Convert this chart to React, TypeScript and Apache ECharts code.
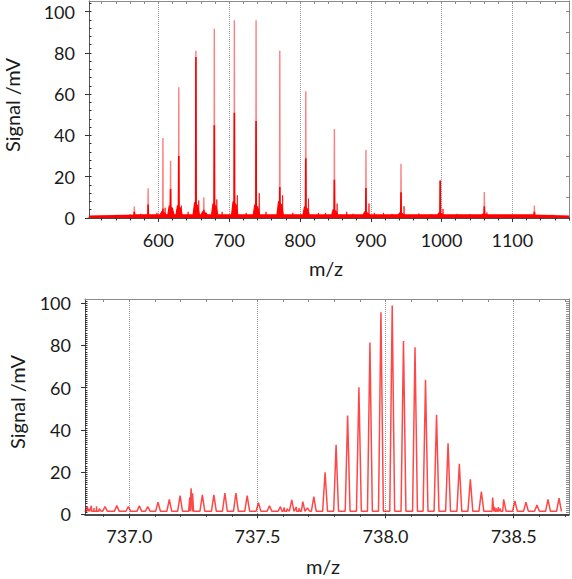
import React, { useEffect, useRef } from "react";
import * as echarts from "echarts";

// ---------- Top panel: full spectrum ----------
const topXMin = 502;
const topXMax = 1180;
const topYMax = 105.2;
const topXLabels = [600, 700, 800, 900, 1000, 1100];
const yLabels = [0, 20, 40, 60, 80, 100];

// main charge-state peaks (m/z, apex height, height of dark core, height of base cluster)
const topPeakMz = [566.0, 585.5, 606.4, 617.2, 628.8, 653.0, 664.2, 679.0, 707.3, 738.0, 771.5, 808.2, 848.6, 893.2, 942.7, 998.1, 1060.4, 1131.1];
const topPeakHeight = [5.7, 14.4, 38.8, 27.8, 63.4, 81.1, 10.0, 91.8, 95.9, 95.9, 81.1, 61.4, 43.2, 33.0, 26.3, 18.4, 12.6, 6.0];
const topPeakCore = [3.0, 6.5, 4.5, 14.0, 30.0, 78.0, 4.0, 45.0, 51.0, 47.0, 15.0, 29.0, 18.6, 14.6, 12.5, 18.0, 5.7, 3.0];
const topPeakBase = [0.5, 1.5, 3.0, 6.0, 6.0, 7.5, 3.0, 7.0, 8.0, 6.5, 8.0, 5.5, 4.0, 3.0, 2.5, 2.5, 2.0, 1.0];

// adduct / satellite peaks
const topSatMz = [609.5, 632.5, 657.0, 682.5, 711.5, 742.5, 775.5, 812.0, 852.5, 897.5, 947.0, 1002.0, 1064.0];
const topSatHeight = [5.0, 6.0, 8.5, 9.0, 11.0, 12.0, 11.0, 9.4, 7.0, 7.0, 5.7, 4.4, 2.7];

// small baseline bumps
const topNoiseMz = [540, 560, 575, 598, 642, 668, 690, 724, 752, 790, 826, 836, 866, 875, 905, 918, 930, 968, 985, 1022, 1040, 1080, 1100, 1145, 1160];
const topNoiseHeight = [1.5, 1.8, 2.0, 2.5, 3.0, 2.5, 3.0, 2.5, 3.0, 2.5, 2.5, 2.5, 3.0, 2.0, 2.5, 2.5, 2.0, 2.2, 1.8, 2.0, 1.8, 1.5, 1.5, 1.5, 1.2];
const topFloor = 1.3;

// ---------- Bottom panel: isotope pattern ----------
const botXMin = 736.827;
const botXMax = 738.716;
const botYMax = 102;
const botXLabels = [737.0, 737.5, 738.0, 738.5];

const botPeakMz = [736.905, 736.951, 736.996, 737.039, 737.072, 737.112, 737.156, 737.198, 737.241, 737.285, 737.330, 737.373, 737.416, 737.460, 737.504, 737.547, 737.590, 737.634, 737.677, 737.720, 737.764, 737.807, 737.852, 737.896, 737.939, 737.982, 738.026, 738.070, 738.115, 738.156, 738.199, 738.244, 738.288, 738.331, 738.374, 738.418, 738.461, 738.505, 738.548, 738.591, 738.634, 738.677];
const botPeakHeight = [3.6, 4.1, 3.6, 4.0, 3.6, 5.7, 7.1, 8.8, 12.3, 9.2, 9.2, 10.0, 10.0, 8.8, 5.5, 4.0, 3.6, 6.8, 6.0, 8.4, 19.9, 32.9, 46.8, 60.2, 81.4, 95.7, 98.9, 82.1, 79.1, 63.7, 47.1, 33.6, 23.9, 16.6, 10.7, 7.9, 7.1, 6.3, 5.7, 4.4, 7.1, 7.6];
const botNoiseMz = [736.835, 736.843, 736.852, 736.862, 736.872, 736.882, 737.236, 737.247, 737.605, 737.615, 737.652, 737.662, 737.695, 738.425, 738.432, 738.440, 738.448];
const botNoiseHeight = [3.5, 2.6, 4.0, 3.0, 3.8, 2.6, 8.0, 10.0, 3.2, 2.6, 3.5, 2.8, 3.0, 3.5, 2.8, 3.4, 2.7];
const botFloor = 1.4;

function steps(a: number, b: number, s: number, scale = 1): number[] {
  const out: number[] = [];
  for (let v = a; v <= b; v += s) out.push(v / scale);
  return out;
}

function spikes(mz: number[], h: number[], hw: number, floor: number): number[][] {
  const pts: number[][] = [];
  mz.forEach((m, i) => {
    pts.push([m - hw, floor], [m, h[i]], [m + hw, floor]);
  });
  return pts.sort((a, b) => a[0] - b[0]);
}

function mounds(mz: number[], b: number[], floor: number, xmin: number, xmax: number): number[][] {
  const pts: number[][] = [[xmin, floor * 0.7]];
  mz.forEach((m, i) => {
    pts.push([m - 4, floor], [m - 1.8, Math.max(floor, b[i])], [m + 2.5, Math.max(floor, b[i] * 0.8)], [m + 5, floor]);
  });
  pts.push([xmax, floor * 0.7]);
  return pts.sort((a, c) => a[0] - c[0]);
}

const FONT = "Lato, 'Open Sans', sans-serif";
const DARK = "#333";
const GREY = "#8a8a8a";

function xAxes(grid: number, min: number, max: number, labels: number[], minor: number[], topTicks: number[], fmt: (v: number) => string) {
  return [
    {
      gridIndex: grid, type: "value", min, max, position: "bottom",
      axisLine: { show: true, onZero: false, lineStyle: { color: "#111", width: 1.5 } },
      axisTick: { show: true, customValues: labels, length: 4, inside: false, lineStyle: { color: DARK } },
      axisLabel: { show: true, customValues: labels, formatter: fmt, fontSize: 18, fontFamily: FONT, color: "#1a1a1a", margin: 13 },
      splitLine: { show: true, lineStyle: { type: "dotted", color: "#9a9a9a", width: 1 } },
    },
    {
      gridIndex: grid, type: "value", min, max, position: "bottom",
      axisLine: { show: false, onZero: false },
      axisTick: { show: true, customValues: minor, length: 2.5, inside: false, lineStyle: { color: DARK } },
      axisLabel: { show: false },
      splitLine: { show: false },
    },
    {
      gridIndex: grid, type: "value", min, max, position: "top",
      axisLine: { show: true, onZero: false, lineStyle: { color: GREY, width: 1 } },
      axisTick: { show: true, customValues: topTicks, length: 3, inside: true, lineStyle: { color: GREY } },
      axisLabel: { show: false },
      splitLine: { show: false },
    },
  ];
}

function yAxes(grid: number, max: number, minorLeft: number[], rightTicks: number[]) {
  return [
    {
      gridIndex: grid, type: "value", min: 0, max, position: "left",
      axisLine: { show: true, onZero: false, lineStyle: { color: "#555", width: 1 } },
      axisTick: { show: true, customValues: yLabels, length: 4, inside: false, lineStyle: { color: DARK } },
      axisLabel: { show: true, customValues: yLabels, fontSize: 18, fontFamily: FONT, color: "#1a1a1a", margin: 14 },
      splitLine: { show: false },
    },
    {
      gridIndex: grid, type: "value", min: 0, max, position: "left",
      axisLine: { show: false, onZero: false },
      axisTick: { show: true, customValues: minorLeft, length: 2.5, inside: true, lineStyle: { color: DARK } },
      axisLabel: { show: false },
      splitLine: { show: false },
    },
    {
      gridIndex: grid, type: "value", min: 0, max, position: "right",
      axisLine: { show: true, onZero: false, lineStyle: { color: GREY, width: 1 } },
      axisTick: { show: true, customValues: rightTicks, length: 3, inside: true, lineStyle: { color: GREY } },
      axisLabel: { show: false },
      splitLine: { show: false },
    },
  ];
}

export default function App() {
  const ref = useRef<HTMLDivElement>(null);
  useEffect(() => {
    if (!ref.current) return;
    const chart = echarts.init(ref.current, null, { renderer: "svg" });

    const topMinor = steps(520, 1180, 20);
    const botMinor = steps(7369, 7387, 1, 10);
    const lineBase = { type: "line", showSymbol: false, symbol: "none", silent: true, clip: true, animation: false };

    const option: any = {
      animation: false,
      backgroundColor: "#fff",
      grid: [
        { left: 89, right: 3, top: 1, height: 217 },
        { left: 85, right: 3, top: 299, height: 215.3 },
      ],
      xAxis: [
        ...xAxes(0, topXMin, topXMax, topXLabels, topMinor, topMinor, (v: number) => String(v)),
        ...xAxes(1, botXMin, botXMax, botXLabels, botMinor, botMinor, (v: number) => v.toFixed(1)),
      ],
      yAxis: [
        ...yAxes(0, topYMax, steps(4, 104, 4), steps(10, 100, 10)),
        ...yAxes(1, botYMax, steps(1, 101, 1), steps(1, 101, 1)),
      ],
      series: [
        {
          ...lineBase, xAxisIndex: 0, yAxisIndex: 0, z: 2,
          data: mounds(topPeakMz, topPeakBase, topFloor, topXMin, topXMax),
          lineStyle: { color: "#ff0000", width: 1.2 },
          areaStyle: { color: "#ff0000", opacity: 1 },
        },
        {
          ...lineBase, xAxisIndex: 0, yAxisIndex: 0, z: 3,
          data: spikes(topPeakMz, topPeakHeight, 0.35, topFloor),
          lineStyle: { color: "rgba(255,40,40,0.6)", width: 1.4 },
        },
        {
          ...lineBase, xAxisIndex: 0, yAxisIndex: 0, z: 4,
          data: spikes(topPeakMz, topPeakCore, 0.35, topFloor),
          lineStyle: { color: "#ff0000", width: 1.6 },
        },
        {
          ...lineBase, xAxisIndex: 0, yAxisIndex: 0, z: 4,
          data: spikes([...topSatMz, ...topNoiseMz], [...topSatHeight, ...topNoiseHeight], 0.4, topFloor),
          lineStyle: { color: "rgba(255,0,0,0.75)", width: 1 },
        },
        {
          ...lineBase, xAxisIndex: 3, yAxisIndex: 3, z: 3,
          data: spikes([...botPeakMz, ...botNoiseMz], [...botPeakHeight, ...botNoiseHeight], 0.0095, botFloor),
          lineStyle: { color: "rgba(255,0,0,0.72)", width: 1.5 },
        },
      ],
      graphic: [
        { type: "text", x: 12, y: 105, rotation: Math.PI / 2, style: { text: "Signal /mV", font: `20px ${FONT}`, fill: "#1a1a1a", align: "center", verticalAlign: "middle" } },
        { type: "text", x: 326, y: 268, style: { text: "m/z", font: `20px ${FONT}`, fill: "#1a1a1a", align: "center", verticalAlign: "middle" } },
        { type: "text", x: 17, y: 402, rotation: Math.PI / 2, style: { text: "Signal /mV", font: `20px ${FONT}`, fill: "#1a1a1a", align: "center", verticalAlign: "middle" } },
        { type: "text", x: 323, y: 566, style: { text: "m/z", font: `20px ${FONT}`, fill: "#1a1a1a", align: "center", verticalAlign: "middle" } },
      ],
    };
    chart.setOption(option);
    return () => chart.dispose();
  }, []);
  return <div ref={ref} style={{ position: "fixed", left: 0, top: 0, width: 572, height: 579, background: "#fff" }} />;
}
